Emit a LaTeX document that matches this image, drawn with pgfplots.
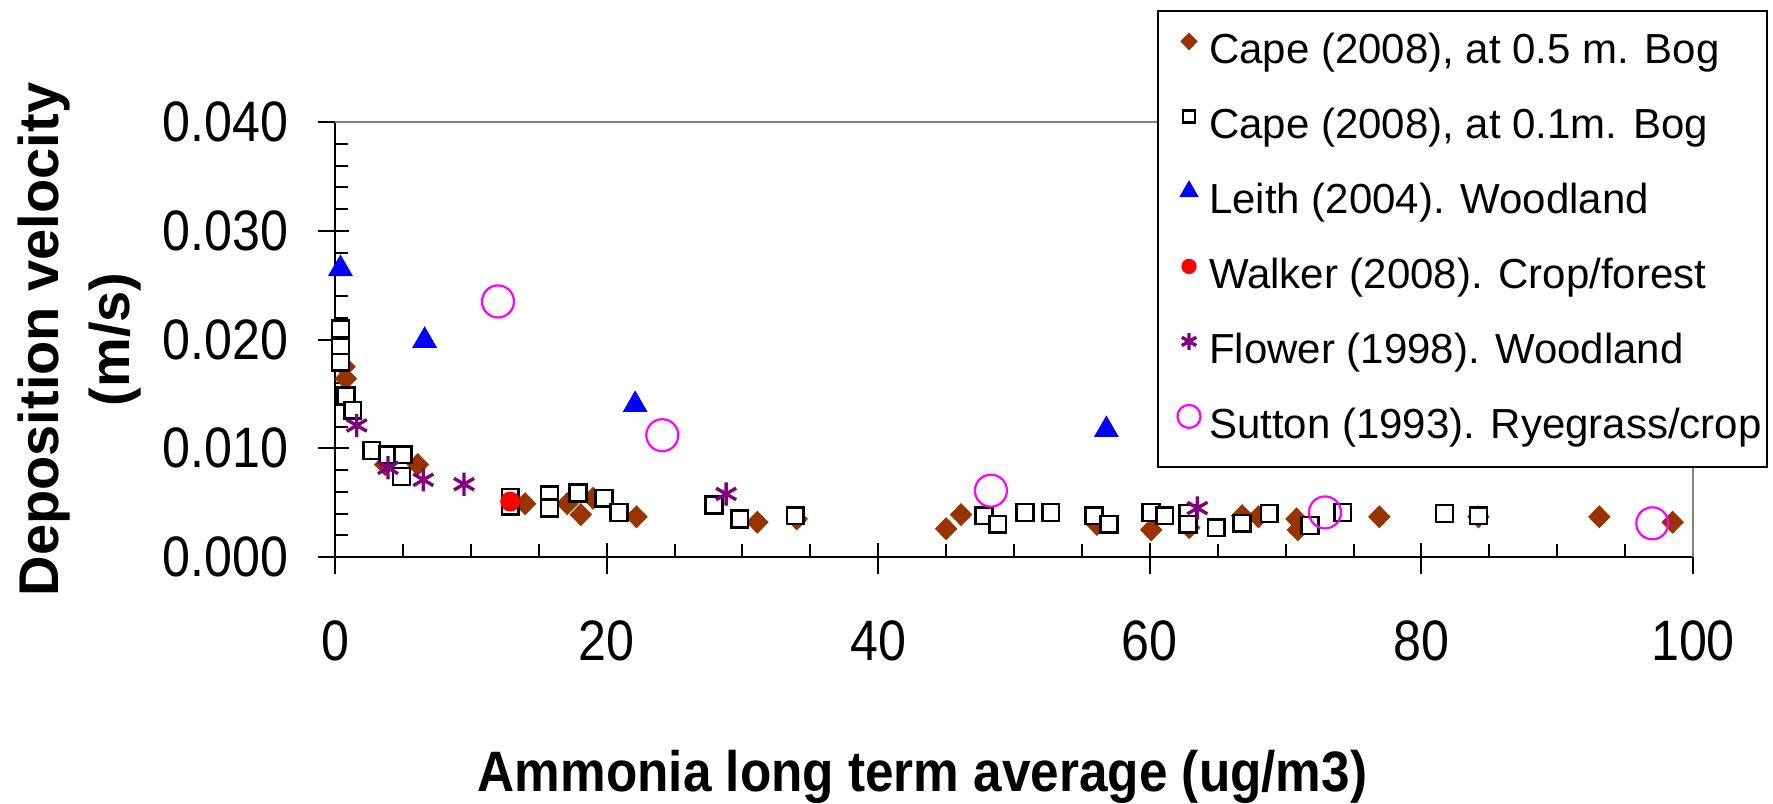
\documentclass[border=0pt]{standalone}
\usepackage{fontspec}
\setmainfont{Liberation Sans}
\newfontfamily\tickfont{Liberation Sans}[FakeStretch=0.88]
\newfontfamily\labfont{Liberation Sans}[FakeStretch=0.9]
\usepackage{pgfplots}
\pgfplotsset{compat=1.18}

\definecolor{capebrown}{RGB}{153,51,0}
\definecolor{leithblue}{RGB}{0,0,255}
\definecolor{walkerred}{RGB}{255,0,0}
\definecolor{flowerpurple}{RGB}{128,0,128}
\definecolor{suttonpink}{RGB}{255,0,255}
\definecolor{framegray}{RGB}{128,128,128}

\begin{document}
\begin{tikzpicture}
\begin{axis}[
  scale only axis,
  width=339.5pt, height=108.75pt,
  xmin=0, xmax=100, ymin=0, ymax=0.04,
  clip=false,
  every non boxed x axis/.style={},
  every non boxed y axis/.style={},
  axis x line*=bottom, axis y line*=left,
  axis line style={black, line width=0.5pt, -},
  x axis line style={-}, y axis line style={-},
  xtick={0,20,40,60,80,100}, minor x tick num=3,
  ytick={0,0.01,0.02,0.03,0.04}, minor y tick num=4,
  tick align=inside,
  major tick length=3.5pt, minor tick length=3.25pt,
  tick style={black, line width=0.5pt},
  extra x ticks={0,20,40,60,80,100}, extra x tick labels={},
  extra x tick style={tick align=outside, major tick length=4.25pt},
  extra y ticks={0,0.01,0.02,0.03,0.04}, extra y tick labels={},
  extra y tick style={tick align=outside, major tick length=4.25pt},
  scaled y ticks=false,
  /pgf/number format/assume math mode=true,
  yticklabel style={/pgf/number format/fixed, /pgf/number format/fixed zerofill,
    /pgf/number format/precision=3,
    font=\tickfont\fontsize{14.25}{16}\selectfont, anchor=east, inner sep=0pt, xshift=-11.5pt},
  xticklabel style={font=\tickfont\fontsize{14.25}{16}\selectfont, anchor=north, inner sep=0pt, yshift=-15.75pt},
  xlabel={Ammonia long term average (ug/m3)},
  xlabel style={at={(axis description cs:0.1046,-0.538)}, anchor=base west, inner sep=0pt,
    font=\labfont\bfseries\fontsize{14.25}{16}\selectfont},
  ylabel={Deposition velocity\\(m/s)},
  ylabel style={at={(axis description cs:-0.1885,0.5)}, anchor=center, align=center, inner sep=0pt,
    font=\bfseries\fontsize{14}{17.75}\selectfont},
  legend cell align=left,
  legend style={at={(axis description cs:0.6053,1.2575)}, anchor=north west,
    draw=black, line width=0.5pt, fill=white,
    inner xsep=1.25pt, inner ysep=0.725pt, row sep=0pt, column sep=0pt,
    font=\fontsize{10.5}{12}\selectfont,
    nodes={inner sep=0pt, text height=12.475pt, text depth=6.275pt}},
  legend image code/.code={\path (-6.25pt,0pt) (4.75pt,0pt);
    \draw[#1, every mark/.append style={scale=0.72}] plot coordinates {(0pt,2.5pt)};},
]
% grey top and right frame
\draw[framegray, line width=0.6pt] (axis description cs:0,1) -- (axis description cs:1,1) -- (axis description cs:1,0);

\addplot[only marks, mark=diamond*, mark size=2.6pt,
  mark options={xscale=1.3, draw=capebrown, fill=capebrown}]
  coordinates {
  (0.7,0.0175) (0.8,0.0164) (3.7,0.0085) (6.1,0.0085) (14.0,0.0049)
  (17.1,0.0049) (18.1,0.0039) (19.0,0.0054) (22.2,0.0037) (31.1,0.0032)
  (34.0,0.0035) (45.0,0.0026) (46.1,0.0039) (56.1,0.0030) (60.1,0.0025)
  (62.9,0.0027) (66.8,0.0038) (68.0,0.0037) (70.8,0.0035) (70.9,0.0025)
  (76.9,0.0037) (84.2,0.0037) (93.1,0.0037) (98.5,0.0032)
  };
\addlegendentry{Cape (2008), at 0.5 m. Bog}

\addplot[only marks, mark=square*, mark size=2.1pt,
  mark options={draw=black, fill=white, line width=0.65pt}]
  coordinates {
  (0.4,0.0210) (0.4,0.0193) (0.4,0.0179) (0.8,0.0148) (1.3,0.0135)
  (2.7,0.0098) (3.9,0.0094) (5.0,0.0094) (4.9,0.0074) (12.9,0.0055)
  (12.9,0.0047) (15.8,0.0057) (15.8,0.0045) (17.9,0.0059) (19.8,0.0054)
  (20.9,0.0041) (27.9,0.0048) (29.8,0.0035) (33.9,0.0038) (47.8,0.0038)
  (48.8,0.0030) (50.8,0.0041) (52.7,0.0041) (55.9,0.0038) (57.0,0.0030)
  (60.1,0.0041) (61.1,0.0038) (62.8,0.0040) (62.8,0.0030) (64.9,0.0027)
  (66.8,0.0031) (68.8,0.0040) (71.8,0.0029) (74.2,0.0041) (81.7,0.0040)
  (84.2,0.0038)
  };
\addlegendentry{Cape (2008), at 0.1m. Bog}

\addplot[only marks, mark=triangle*, mark size=3.2pt,
  mark options={draw=leithblue, fill=leithblue}]
  coordinates {(0.4,0.0265) (6.6,0.0199) (22.1,0.0140) (56.8,0.0117)};
\addlegendentry{Leith (2004). Woodland}

\addplot[only marks, mark=*, mark size=2.3pt,
  mark options={draw=walkerred, fill=walkerred}]
  coordinates {(12.9,0.0051)};
\addlegendentry{Walker (2008). Crop/forest}

\addplot[only marks, mark=asterisk, mark size=2.9pt,
  mark options={draw=flowerpurple, line width=0.85pt}]
  coordinates {(1.6,0.0121) (3.9,0.0082) (6.5,0.0071) (9.5,0.0067) (28.8,0.0058) (63.5,0.0045)};
\addlegendentry{Flower (1998). Woodland}

\addplot[only marks, mark=o, mark size=4pt,
  mark options={draw=suttonpink, line width=0.55pt}]
  coordinates {(12.0,0.0235) (24.1,0.0112) (48.3,0.0061) (72.9,0.0041) (97.0,0.0031)};
\addlegendentry{Sutton (1993). Ryegrass/crop}

\coordinate (bbsw) at (axis description cs:-0.2467,-0.5655);
\coordinate (bbne) at (axis description cs:1.0589,1.2805);
\end{axis}
\pgfresetboundingbox
\path[use as bounding box] (bbsw) rectangle (bbne);
\end{tikzpicture}
\end{document}
